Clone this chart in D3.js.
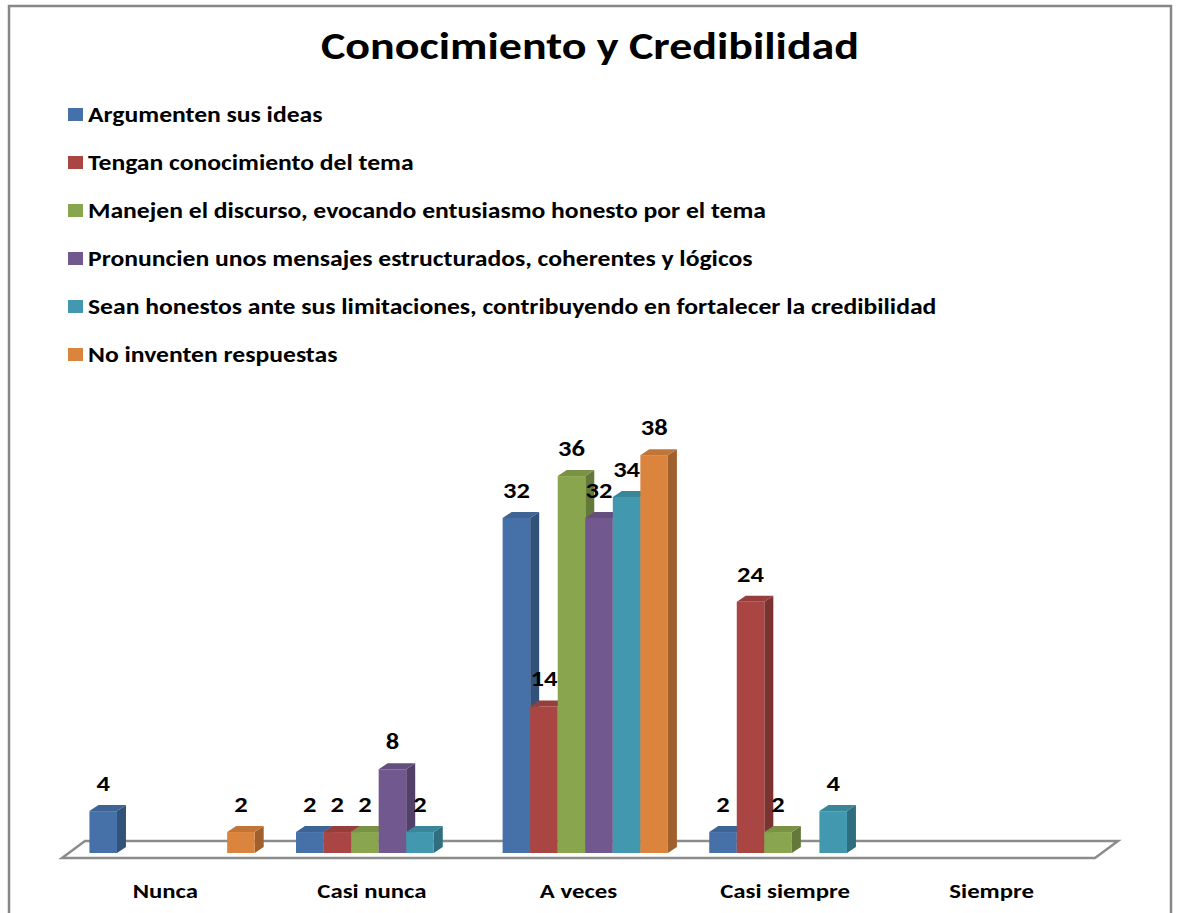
<!DOCTYPE html>
<html>
<head>
    <meta charset="utf-8">
    <title>Conocimiento y Credibilidad</title>
    <script type="text/javascript" src="https://cdn.jsdelivr.net/npm/d3@7/dist/d3.min.js"></script>
    <style>
        body { margin: 0; background: #fff; }
        text { font-family: Carlito, Calibri, "Open Sans", sans-serif; font-weight: bold; fill: #000; }
    </style>
</head>
<body>
<div id="graphDiv"></div>
<script>

var width = 1177,
    height = 913,
    title = "Conocimiento y Credibilidad",
    categories = ["Nunca", "Casi nunca", "A veces", "Casi siempre", "Siempre"],
    seriesNames = [
        "Argumenten sus ideas",
        "Tengan conocimiento del tema",
        "Manejen el discurso, evocando entusiasmo honesto por el tema",
        "Pronuncien unos mensajes estructurados, coherentes y lógicos",
        "Sean honestos ante sus limitaciones, contribuyendo en fortalecer la credibilidad",
        "No inventen respuestas"
    ],
    // one array per series, one value per category (null = empty cell)
    argumenten = [4, 2, 32, 2, null],
    conocimiento = [null, 2, 14, 24, null],
    discurso = [null, 2, 36, 2, null],
    mensajes = [null, 8, 32, null, null],
    honestos = [null, 2, 34, 4, null],
    noInventen = [2, null, 38, null, null],
    seriesValues = [argumenten, conocimiento, discurso, mensajes, honestos, noInventen],
    frontColors = ["#4571a8", "#a94643", "#89a54e", "#71588f", "#4198af", "#db843d"],
    yMax = 40;

// the original picture is stretched sideways, so text is widened to match
var sx = 1.18;

// floor geometry (front edge and depth offset of the 3d floor)
var floorLeft = 62, floorRight = 1095, floorFront = 858,
    floorDx = 23, floorDy = -17,
    barBase = 853, barDx = 9, barDy = -6;

var svg = d3.select('#graphDiv').append('svg')
    .attr('width', width)
    .attr('height', height);

function place(x, y) { return 'translate(' + x + ',' + y + ') scale(' + sx + ',1)'; }

// chart border
svg.append('rect')
    .attr('x', 9).attr('y', 6)
    .attr('width', 1162).attr('height', 940)
    .style('fill', '#fff')
    .style('stroke', '#878787')
    .style('stroke-width', 2.5);

svg.append('text')
    .attr('transform', place(590, 59))
    .attr('text-anchor', 'middle')
    .style('font-size', '39px')
    .text(title);

// legend
var legend = svg.selectAll('.legend')
    .data(seriesNames)
    .enter().append('g')
    .attr('class', 'legend')
    .attr('transform', function(d, i) { return 'translate(68,' + (122 + i * 48) + ')'; });

legend.append('rect')
    .attr('x', 0).attr('y', -14)
    .attr('width', 15).attr('height', 13)
    .style('fill', function(d, i) { return frontColors[i]; });

legend.append('text')
    .attr('transform', place(20, 0))
    .style('font-size', '21.75px')
    .text(function(d) { return d; });

// floor
var floorPts = [
    [floorLeft, floorFront],
    [floorRight, floorFront],
    [floorRight + floorDx, floorFront + floorDy],
    [floorLeft + floorDx, floorFront + floorDy]
];
svg.append('path')
    .attr('d', 'M' + floorPts.join('L') + 'Z')
    .style('fill', '#fff')
    .style('stroke', '#8c8c8c')
    .style('stroke-width', 2.5);

// scales: categories along the plane of the bar fronts
var shift = (floorFront - barBase) * floorDx / -floorDy;
var x0 = d3.scaleBand()
    .domain(categories)
    .range([floorLeft + shift, floorRight + shift]);

var x1 = d3.scaleBand()
    .domain(d3.range(seriesNames.length))
    .range([0, x0.bandwidth()])
    .paddingInner(0)
    .paddingOuter(0.75);

var y = d3.scaleLinear()
    .domain([0, yMax])
    .range([barBase, barBase - yMax * 10.47]);

// flatten to bars, drawn left to right so later fronts cover earlier sides
var bars = [];
categories.forEach(function(c, ci) {
    seriesValues.forEach(function(vals, si) {
        if (vals[ci] != null) bars.push({cat: c, s: si, value: vals[ci]});
    });
});

var bar = svg.selectAll('.bar')
    .data(bars)
    .enter().append('g')
    .attr('class', 'bar');

function barX(d) { return x0(d.cat) + x1(d.s); }

// side face
bar.append('path')
    .attr('d', function(d) {
        var xr = barX(d) + x1.bandwidth(), yt = y(d.value), yb = y(0);
        return 'M' + [[xr, yb], [xr, yt], [xr + barDx, yt + barDy], [xr + barDx, yb + barDy]].join('L') + 'Z';
    })
    .style('fill', function(d) { return d3.color(frontColors[d.s]).darker(0.9); });

// top face
bar.append('path')
    .attr('d', function(d) {
        var xl = barX(d), xr = xl + x1.bandwidth(), yt = y(d.value);
        return 'M' + [[xl, yt], [xr, yt], [xr + barDx, yt + barDy], [xl + barDx, yt + barDy]].join('L') + 'Z';
    })
    .style('fill', function(d) { return d3.color(frontColors[d.s]).darker(0.35); });

// front face
bar.append('rect')
    .attr('x', barX)
    .attr('y', function(d) { return y(d.value); })
    .attr('width', x1.bandwidth())
    .attr('height', function(d) { return y(0) - y(d.value); })
    .style('fill', function(d) { return frontColors[d.s]; });

// value labels
svg.selectAll('.value')
    .data(bars)
    .enter().append('text')
    .attr('class', 'value')
    .attr('transform', function(d) {
        return place(barX(d) + x1.bandwidth() / 2, y(d.value) - 20);
    })
    .attr('text-anchor', 'middle')
    .style('font-size', '22.5px')
    .text(function(d) { return d.value; });

// category labels, centred under the front edge of the floor
var xLab = d3.scaleBand()
    .domain(categories)
    .range([floorLeft, floorRight]);

svg.selectAll('.cat')
    .data(categories)
    .enter().append('text')
    .attr('class', 'cat')
    .attr('transform', function(d) { return place(xLab(d) + xLab.bandwidth() / 2, 898); })
    .attr('text-anchor', 'middle')
    .style('font-size', '21px')
    .text(function(d) { return d; });

</script>
</body>
</html>
